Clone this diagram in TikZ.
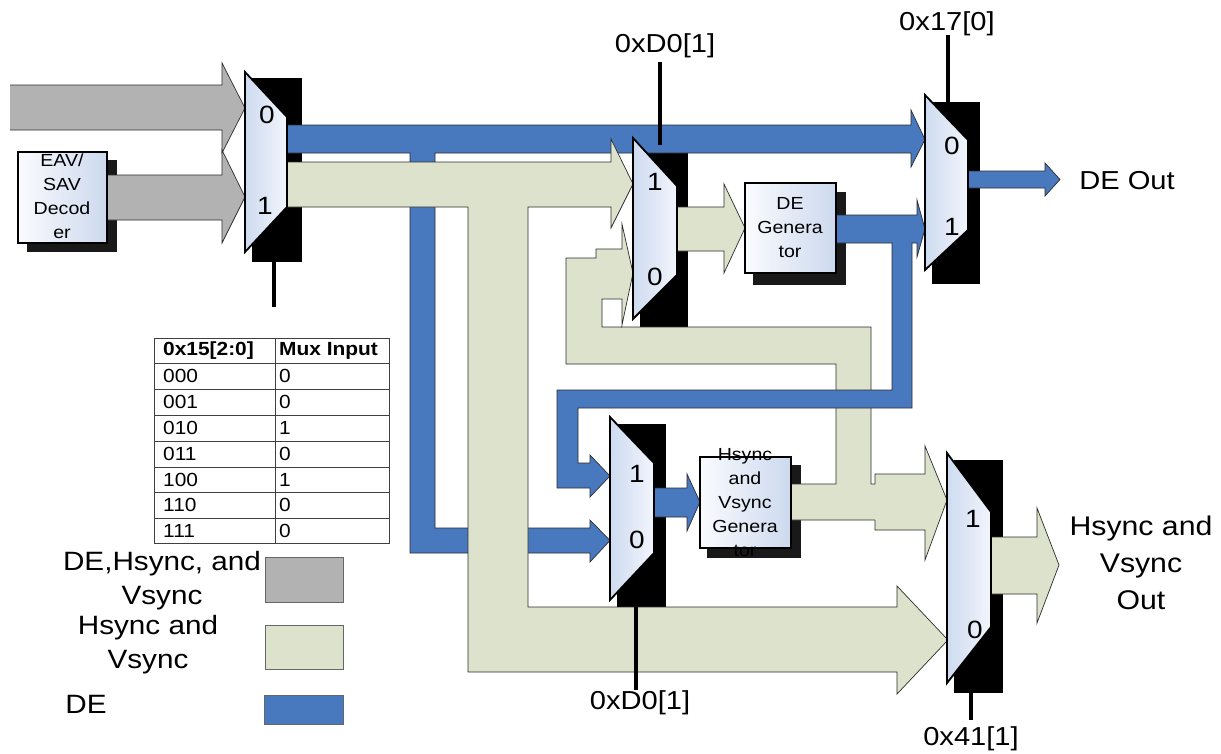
\documentclass[tikz,border=0pt]{standalone}
\usepackage{fontspec}
\setmainfont{Liberation Sans}
\definecolor{grayband}{RGB}{178,178,178}
\definecolor{beige}{RGB}{221,226,204}
\definecolor{deblue}{RGB}{72,120,190}
\definecolor{muxl}{RGB}{206,219,240}
\definecolor{muxr}{RGB}{242,245,252}
\definecolor{boxl}{RGB}{250,251,254}
\definecolor{boxr}{RGB}{204,217,238}
\definecolor{edgec}{RGB}{45,45,45}
\definecolor{boxshadow}{RGB}{25,25,25}
\newcommand{\fsz}[2]{\fontsize{#1}{#2}\selectfont}
\begin{document}
\begin{tikzpicture}[x=1pt,y=-1pt,
  gband/.style={fill=grayband,draw=edgec,line width=0.7pt},
  bband/.style={fill=beige,draw=edgec,line width=0.7pt},
  dband/.style={fill=deblue,draw=edgec,line width=0.7pt},
  muxbody/.style={left color=muxl,right color=muxr,draw=black,line width=1.8pt,line join=miter},
  boxbody/.style={left color=boxl,right color=boxr,draw=black,line width=1.6pt},
  shad/.style={fill=black},
  bshad/.style={fill=boxshadow},
  sel/.style={draw=black,line width=3.2pt},
  txt/.style={inner sep=0pt,xscale=1.12,align=center},
  lbl/.style={txt,font=\fsz{26}{31}},
  dig/.style={txt,font=\fsz{25}{30}},
  boxtxt/.style={txt,font=\fsz{17.5}{24}},
  tab/.style={inner sep=0pt,xscale=1.1,anchor=west,font=\fsz{19}{22}},
  leg/.style={txt,font=\fsz{26.5}{34}},
  tline/.style={draw=black!75,line width=0.8pt}
]
\useasboundingbox (0,0) rectangle (1221,753);
\fill[white] (0,0) rectangle (1221,753);

% ---------- shadows ----------
\fill[shad] (252,78) rectangle (302,262);
\fill[shad] (640,145) rectangle (688,328);
\fill[shad] (932,102) rectangle (980,284);
\fill[shad] (617,424) rectangle (666,607);
\fill[shad] (954,460) rectangle (1003,693);
\fill[bshad] (27,160) rectangle (117,252);
\fill[bshad] (753,192) rectangle (846,285);
\fill[bshad] (707,465) rectangle (801,558);

% ---------- DE path from mux A (input 0 of mux C, branch to mux D input 0) ----------
\path[dband] (287,125) -- (911,125) -- (911,110) -- (925,139.5) -- (911,167) -- (911,153)
  -- (435,153) -- (435,528) -- (590,528) -- (590,520) -- (610,540.5) -- (590,562) -- (590,553)
  -- (410,553) -- (410,153) -- (287,153) -- cycle;

% ---------- Hsync/Vsync from mux A (to mux B input 1, branch to mux E input 0) ----------
\path[bband] (287,162) -- (611,162) -- (611,139) -- (633,184) -- (611,228) -- (611,207)
  -- (528,207) -- (528,607) -- (897,607) -- (897,586) -- (948,640) -- (897,694) -- (897,672)
  -- (468,672) -- (468,207) -- (287,207) -- cycle;

% ---------- Hsync/Vsync generator output loop to mux B input 0 ----------
\path[bband] (791,484) -- (836,484) -- (836,364) -- (566,364) -- (566,258) -- (596,258)
  -- (596,249) -- (622,249) -- (622,224) -- (633,273) -- (622,325) -- (622,299) -- (602,299)
  -- (602,327) -- (871,327) -- (871,484) -- (880,484) -- (880,520) -- (791,520) -- cycle;

% ---------- arrow into mux E input 1 ----------
\fill[beige] (875,474) -- (925,474) -- (925,446) -- (947,500) -- (925,560) -- (925,530) -- (875,530) -- cycle;
\draw[edgec,line width=0.7pt] (875,484) -- (875,474) -- (925,474) -- (925,446) -- (947,500) -- (925,560) -- (925,530) -- (875,530) -- (875,520);

% ---------- DE generator output (to mux C input 1, branch to mux D input 1) ----------
\path[dband] (836,215) -- (917,215) -- (917,200) -- (925,229) -- (917,257) -- (917,243)
  -- (912,243) -- (912,408) -- (578,408) -- (578,463) -- (590,463) -- (590,455) -- (610,476)
  -- (590,497) -- (590,488) -- (557,488) -- (557,390) -- (892,390) -- (892,243) -- (836,243) -- cycle;

% ---------- mux B -> DE generator ----------
\path[bband] (677,207) -- (724,207) -- (724,184) -- (745,228) -- (724,273) -- (724,251) -- (677,251) -- cycle;
% ---------- mux D -> Hsync generator ----------
\path[dband] (654,488) -- (687,488) -- (687,474) -- (700,502) -- (687,531) -- (687,517) -- (654,517) -- cycle;
% ---------- mux E output ----------
\path[bband] (991,537) -- (1037,537) -- (1037,508) -- (1059,565) -- (1037,623) -- (1037,594) -- (991,594) -- cycle;
% ---------- DE out ----------
\path[dband] (968,171) -- (1045,171) -- (1045,163) -- (1060,179.5) -- (1045,196) -- (1045,188) -- (968,188) -- cycle;
% ---------- gray inputs ----------
\fill[grayband] (10,85) -- (222,85) -- (222,63) -- (245,108) -- (222,153) -- (222,130) -- (10,130) -- cycle;
\draw[edgec,line width=0.7pt] (10,85) -- (222,85) -- (222,63) -- (245,108) -- (222,153) -- (222,130) -- (10,130);
\path[gband] (107,175) -- (222,175) -- (222,150) -- (245,197) -- (222,243) -- (222,220) -- (107,220) -- cycle;

% ---------- muxes ----------
\path[muxbody] (245,72) -- (287,117) -- (287,207) -- (245,252) -- cycle;
\path[muxbody] (633,138) -- (677,186) -- (677,275) -- (633,319) -- cycle;
\path[muxbody] (925,95) -- (968,140) -- (968,230) -- (925,270) -- cycle;
\path[muxbody] (610,417) -- (654,463) -- (654,553) -- (610,600) -- cycle;
\path[muxbody] (947,453) -- (991,512) -- (991,627) -- (947,683) -- cycle;

\node[dig] (a0) at (267,115) {0};
\node[dig] (a1) at (265,206) {1};
\node[dig] (b1) at (655,182) {1};
\node[dig] (b0) at (655,277) {0};
\node[dig] (c0) at (952,146) {0};
\node[dig] (c1) at (952,227) {1};
\node[dig] (d1) at (637,474) {1};
\node[dig] (d0) at (637,540) {0};
\node[dig] (e1) at (973,519) {1};
\node[dig] (e0) at (975,630) {0};

% ---------- boxes ----------
\path[boxbody] (18,152) rectangle (107,243);
\node[boxtxt] (eav) at (62,196) {EAV/\\SAV\\Decod\\er};
\path[boxbody] (745,183) rectangle (836,273);
\node[boxtxt] (deg) at (790,228) {DE\\Genera\\tor};
\path[boxbody] (700,457) rectangle (791,548);
\node[boxtxt] (hvg) at (745,503) {Hsync\\and\\Vsync\\Genera\\tor};

% ---------- select lines and labels ----------
\node[lbl] (lbB) at (665,46) {0xD0[1]};
\node[lbl] (lbC) at (947,24) {0x17[0]};
\node[lbl] (lbD) at (640,703) {0xD0[1]};
\node[lbl] (lbE) at (971,739) {0x41[1]};
\coordinate (selA) at (274,307);
\draw[sel] (274,262) -- (selA);
\draw[sel] (660,145) -- (660,62);
\draw[sel] (948,102) -- (948,35);
\draw[sel] (636,607) -- (636,690);
\draw[sel] (971,693) -- (971,720);

\node[lbl] (deout) at (1127,181) {DE Out};
\node[txt,font=\fsz{27}{37}] (hvout) at (1141,563) {Hsync and\\Vsync\\Out};

% ---------- table ----------
\draw[tline] (154,338) rectangle (389,543);
\draw[tline] (275,338) -- (275,543);
\foreach \yy in {363,389,415,441,467,492,518} \draw[tline] (154,\yy) -- (389,\yy);
\node[tab,font=\fsz{19}{22}\bfseries] (th1) at (163,350.5) {0x15[2:0]};
\node[tab,font=\fsz{19}{22}\bfseries] (th2) at (279,350.5) {Mux Input};
\node[tab] (r1a) at (163,376) {000};  \node[tab] (r1b) at (279,376) {0};
\node[tab] (r2a) at (163,402) {001};  \node[tab] (r2b) at (279,402) {0};
\node[tab] (r3a) at (163,428) {010};  \node[tab] (r3b) at (279,428) {1};
\node[tab] (r4a) at (163,454) {011};  \node[tab] (r4b) at (279,454) {0};
\node[tab] (r5a) at (163,480) {100};  \node[tab] (r5b) at (279,480) {1};
\node[tab] (r6a) at (163,505) {110};  \node[tab] (r6b) at (279,505) {0};
\node[tab] (r7a) at (163,531) {111};  \node[tab] (r7b) at (279,531) {0};

% ---------- legend ----------
\node[leg] (lg1) at (162,581) {DE,Hsync, and\\Vsync};
\node[leg] (lg2) at (148,645) {Hsync and\\Vsync};
\node[leg] (lg3) at (86,704) {DE};
\draw[fill=grayband,draw=black!60,line width=0.8pt] (265,557) rectangle (343,602);
\draw[fill=beige,draw=black!60,line width=0.8pt] (265,625) rectangle (343,669);
\draw[fill=deblue,draw=black!60,line width=0.8pt] (264,695) rectangle (343,724);
\end{tikzpicture}
\end{document}
